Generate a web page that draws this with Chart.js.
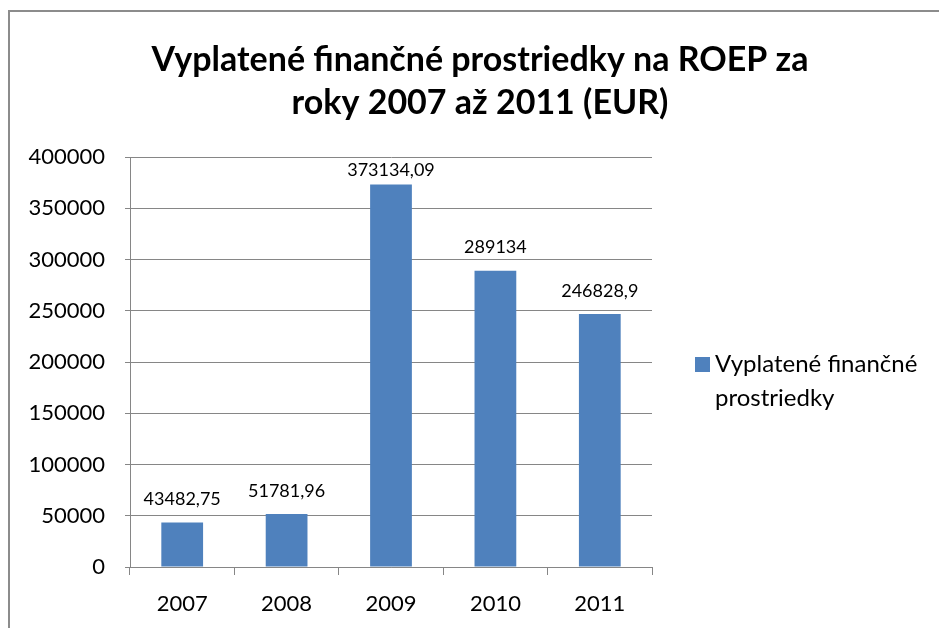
<!DOCTYPE html>
<html>
<head>
<meta charset="utf-8">
<script src="https://cdn.jsdelivr.net/npm/chart.js@4/dist/chart.umd.min.js"></script>
<style>
  html, body { margin: 0; padding: 0; background: #fff; }
  #wrap { position: relative; width: 939px; height: 628px; }
</style>
</head>
<body>
<div id="wrap"><canvas id="c" width="939" height="628"></canvas></div>
<script>
const titleLines = ['Vyplatené finančné prostriedky na ROEP za', 'roky 2007 až 2011 (EUR)'];
const categories = ['2007', '2008', '2009', '2010', '2011'];
const seriesName = 'Vyplatené finančné prostriedky';
const values = [43482.75, 51781.96, 373134.09, 289134, 246828.9];
const yTicks = [0, 50000, 100000, 150000, 200000, 250000, 300000, 350000, 400000];

const FONT = 'Lato, "Open Sans", sans-serif';
const BAR = '#4F81BD';
const GRID = '#868686';

const decor = {
  id: 'decor',
  beforeDraw(chart) {
    const ctx = chart.ctx;
    ctx.save();
    ctx.fillStyle = '#fff';
    ctx.fillRect(0, 0, chart.width, chart.height);
    ctx.strokeStyle = '#8c8c8c';
    ctx.lineWidth = 2;
    ctx.strokeRect(9, 11, 960, 640);
    ctx.restore();
  },
  afterDraw(chart) {
    const ctx = chart.ctx;
    ctx.save();
    // title
    ctx.fillStyle = '#000';
    ctx.font = 'bold 34px ' + FONT;
    ctx.textAlign = 'center';
    ctx.textBaseline = 'middle';
    ctx.fillText(titleLines[0], 480, 60);
    ctx.fillText(titleLines[1], 480, 103);

    // data labels
    const meta = chart.getDatasetMeta(0);
    ctx.font = '18px ' + FONT;
    ctx.textBaseline = 'middle';
    meta.data.forEach((bar, i) => {
      const txt = String(values[i]).replace('.', ',');
      let y = bar.y - 23;
      y = Math.max(y, chart.chartArea.top + 13);
      ctx.fillText(txt, bar.x, y);
    });

    // legend
    ctx.fillStyle = BAR;
    ctx.fillRect(695, 357, 15, 15);
    ctx.fillStyle = '#000';
    ctx.font = '24px ' + FONT;
    ctx.textAlign = 'left';
    ctx.textBaseline = 'alphabetic';
    const words = seriesName.split(' ');
    const lines = [];
    let cur = '';
    words.forEach(w => {
      const t = cur ? cur + ' ' + w : w;
      if (ctx.measureText(t).width > 222 && cur) { lines.push(cur); cur = w; }
      else cur = t;
    });
    if (cur) lines.push(cur);
    lines.forEach((l, i) => ctx.fillText(l, 715, 372 + i * 34));
    ctx.restore();
  }
};

new Chart(document.getElementById('c'), {
  type: 'bar',
  data: {
    labels: categories,
    datasets: [{
      label: seriesName,
      data: values,
      backgroundColor: BAR,
      borderWidth: 0,
      barPercentage: 0.4,
      categoryPercentage: 1.0
    }]
  },
  options: {
    responsive: false,
    animation: false,
    devicePixelRatio: 1,
    layout: { padding: { top: 157, right: 287, bottom: 0, left: 0 } },
    plugins: { legend: { display: false }, title: { display: false }, tooltip: { enabled: false } },
    scales: {
      x: {
        afterFit(s) { s.height = 61; },
        grid: { offset: true, drawOnChartArea: false, drawTicks: true, tickLength: 8, color: GRID, lineWidth: 1 },
        border: { display: true, color: GRID, width: 1 },
        ticks: { color: '#000', font: { family: FONT, size: 22 }, padding: 16 }
      },
      y: {
        min: 0,
        max: 400000,
        afterFit(s) { s.width = 130; },
        afterBuildTicks(s) { s.ticks = yTicks.map(v => ({ value: v })); },
        grid: { color: GRID, lineWidth: 1, tickLength: 5, drawTicks: true },
        border: { display: true, color: GRID, width: 1 },
        ticks: { color: '#000', font: { family: FONT, size: 22 }, padding: 20, callback: v => String(v) }
      }
    }
  },
  plugins: [decor]
});
</script>
</body>
</html>
